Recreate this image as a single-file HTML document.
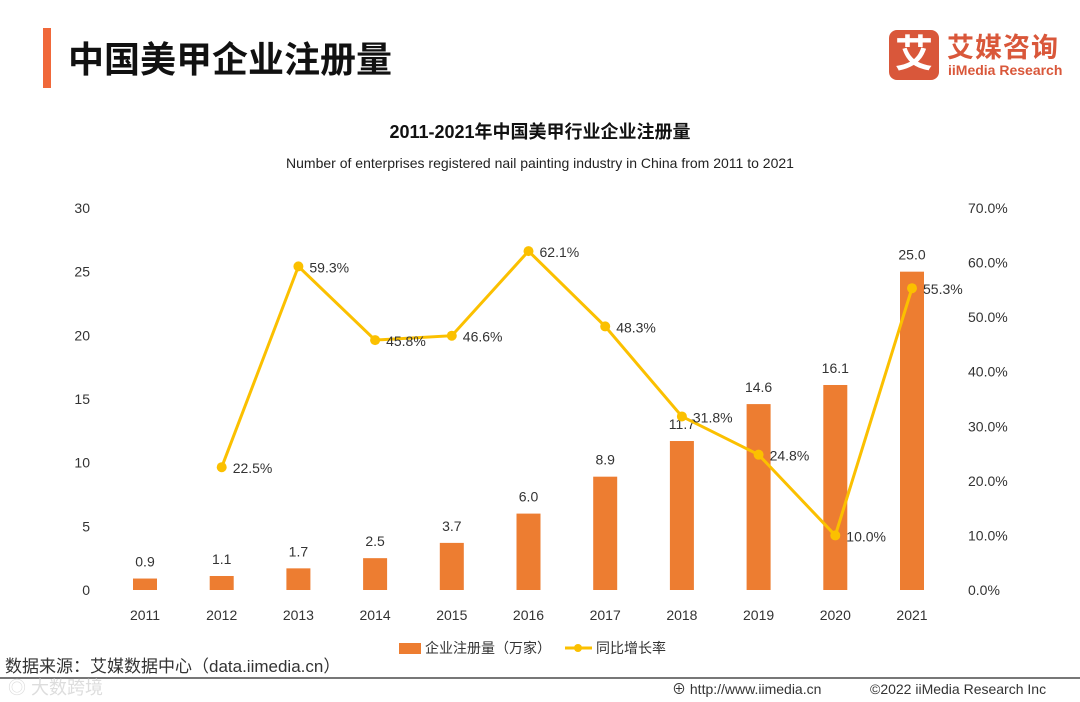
<!DOCTYPE html>
<html><head><meta charset="utf-8"><style>
body{margin:0;width:1080px;height:702px;background:#fff;overflow:hidden;font-family:"Liberation Sans","Noto Sans CJK SC",sans-serif;position:relative}
.abs{position:absolute}
</style></head><body>
<div class="abs" style="left:43px;top:28px;width:8px;height:60px;background:#f0683a"></div>
<div class="abs" style="left:68px;top:31px;font-size:36px;font-weight:bold;color:#111">中国美甲企业注册量</div>
<div class="abs" style="left:889px;top:30px;width:175px;height:52px;white-space:nowrap">
 <div style="position:absolute;left:0;top:0;width:50px;height:50px;background:#d9573a;border-radius:8px;color:#fff;font-size:38px;font-weight:bold;text-align:center;line-height:50px">艾</div>
 <div style="position:absolute;left:58px;top:-4px;font-size:27px;font-weight:bold;color:#d9573a;letter-spacing:1px">艾媒咨询</div>
 <div style="position:absolute;left:59px;top:32px;font-size:14px;color:#d9573a;font-weight:bold;white-space:nowrap">iiMedia Research</div>
</div>
<svg class="abs" style="left:0;top:0" width="1080" height="702">
<text x="540" y="138" text-anchor="middle" font-size="18" font-weight="bold" fill="#111">2011-2021年中国美甲行业企业注册量</text>
<text x="540" y="168" text-anchor="middle" font-size="14" fill="#222">Number of enterprises registered  nail painting industry in China from 2011 to  2021</text>
<g id="g"></g>
<line x1="0" y1="678" x2="1080" y2="678" stroke="#777" stroke-width="2"/>
<rect x="399" y="643" width="22" height="11" fill="#ed7d31"/>
<text x="425" y="653" font-size="14" fill="#333">企业注册量（万家）</text>
<line x1="565" y1="648" x2="592" y2="648" stroke="#fbc000" stroke-width="3"/>
<circle cx="578" cy="648" r="4" fill="#fbc000"/>
<text x="596" y="653" font-size="14" fill="#333">同比增长率</text>
<text x="5" y="672" font-size="17" fill="#333">数据来源：艾媒数据中心（data.iimedia.cn）</text>
<text x="8" y="694" font-size="18" fill="#ddd">◎ 大数跨境</text>
<text x="672" y="694" font-size="14" fill="#333">⊕ http://www.iimedia.cn</text>
<text x="870" y="694" font-size="14" fill="#333">©2022  iiMedia Research  Inc</text>
</svg>
<script>
const years=["2011","2012","2013","2014","2015","2016","2017","2018","2019","2020","2021"];
const counts=[0.9,1.1,1.7,2.5,3.7,6.0,8.9,11.7,14.6,16.1,25.0];
const growth=[null,22.5,59.3,45.8,46.6,62.1,48.3,31.8,24.8,10.0,55.3];
const leftTicks=[0,5,10,15,20,25,30];
const rightTicks=[0,10,20,30,40,50,60,70];
const NS="http://www.w3.org/2000/svg",g=document.getElementById('g');
const x=i=>145+i*76.7, yL=v=>590-v/30*382, yR=v=>590-v/70*382;
function mk(t,a,txt){const e=document.createElementNS(NS,t);for(const k in a)e.setAttribute(k,a[k]);if(txt!=null)e.textContent=txt;g.appendChild(e);return e;}
leftTicks.forEach(v=>{const e=mk('text',{x:90,y:yL(v)+5,'text-anchor':'end','font-size':14,fill:'#333'},v);

});
rightTicks.forEach(v=>{const e=mk('text',{x:968,y:yR(v)+5,'font-size':14,fill:'#333'},v.toFixed(1)+'%');

});
years.forEach((yr,i)=>{const e=mk('text',{x:x(i),y:620,'text-anchor':'middle','font-size':14,fill:'#333'},yr);

});
counts.forEach((v,i)=>{const b=mk('rect',{x:x(i)-12,y:yL(v),width:24,height:590-yL(v),fill:'#ed7d31'});


const t=mk('text',{x:x(i),y:yL(v)-12,'text-anchor':'middle','font-size':14,fill:'#333'},v.toFixed(1));

});
let d='';growth.forEach((v,i)=>{if(v==null)return;d+=(d?'L':'M')+x(i)+','+yR(v);});
const p=mk('path',{d:d,fill:'none',stroke:'#fbc000','stroke-width':3});


growth.forEach((v,i)=>{if(v==null)return;const c=mk('circle',{cx:x(i),cy:yR(v),r:5,fill:'#fbc000'});


const t=mk('text',{x:x(i)+11,y:yR(v)+6,'font-size':14,fill:'#333'},v.toFixed(1)+'%');

});
</script>
</body></html>
